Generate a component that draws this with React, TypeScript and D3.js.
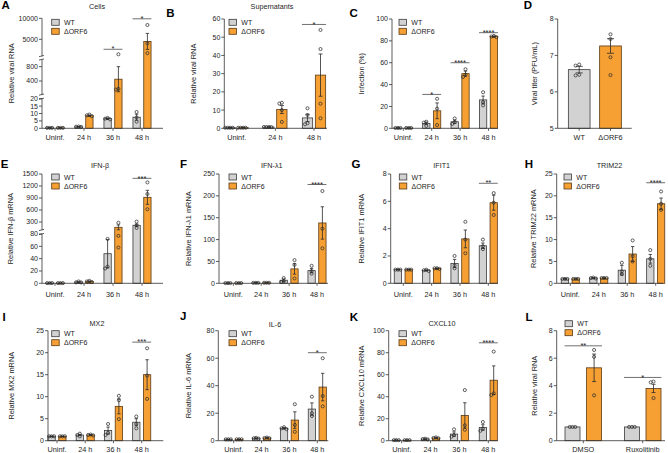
import React from "react";
import * as d3 from "d3";

// ---------- categories / labels ----------
const TIMES4 = ["Uninf.", "24 h", "36 h", "48 h"];
const TIMES3 = ["Uninf.", "24 h", "48 h"];
const STRAINS = ["WT", "ΔORF6"];
const TREATMENTS = ["DMSO", "Ruxolitinib"];

// ---------- A: Cells ----------
const cellsWT = [0.3, 1, 6.5, 7.5];
const cellsWTsem = [0.05, 0.1, 0.5, 2];
const cellsWTpts = [[0.3, 0.3, 0.3], [1, 1.1, 1.2], [7, 6.5, 6], [11, 7.3, 4.5]];
const cellsKO = [0.3, 8.5, 450, 4500];
const cellsKOsem = [0.05, 0.5, 350, 1900];
const cellsKOpts = [[0.3, 0.3, 0.3], [9.3, 8.8, 8.2], [1430, 180, 160], [8400, 4050, 1700]];
const cellsTicks = [[0, 5, 10, 15, 20], [400, 800], [5000, 10000]];

// ---------- B: Supernatants ----------
const superWT = [0.3, 0.7, 5.7];
const superWTsem = [0.05, 0.05, 2.0];
const superWTpts = [[0.3, 0.3, 0.3, 0.3], [0.7, 0.7, 0.7, 0.7], [11, 7.3, 2.8, 2.2]];
const superKO = [0.3, 10.3, 29.2];
const superKOsem = [0.05, 2.2, 11.6];
const superKOpts = [[0.3, 0.3, 0.3, 0.3], [14, 13.6, 10, 3.5], [54, 43.5, 13.5, 5.5]];
const superTicks = [0, 10, 20, 30, 40, 50, 60];

// ---------- C: Infection ----------
const infWT = [0.3, 4.5, 6, 26];
const infWTsem = [0.05, 1.2, 1.5, 3.5];
const infWTpts = [[0.3, 0.3, 0.3], [6, 5.2, 2.2], [9, 5.5, 4], [33, 24, 21]];
const infKO = [0.3, 16, 50, 84];
const infKOsem = [0.05, 7.2, 2.3, 0.5];
const infKOpts = [[0.3, 0.3, 0.3], [27, 18, 3], [54, 49, 47], [84.5, 84, 83.5]];
const infTicks = [0, 20, 40, 60, 80, 100];

// ---------- D: Viral titer ----------
const titerMean = [6.61, 7.26];
const titerSem = [0.09, 0.2];
const titerPts = [[6.75, 6.72, 6.47, 6.45], [7.58, 7.45, 6.95, 6.46]];
const titerTicks = [5, 6, 7, 8];

// ---------- E: IFN-β ----------
const ifnbWT = [0.3, 2, 48, 217];
const ifnbWTsem = [0.05, 0.5, 23, 30];
const ifnbWTpts = [[0.3, 0.3, 0.3], [3, 1.6, 1.4], [72, 27, 24], [310, 220, 150]];
const ifnbKO = [0.3, 3, 167, 917];
const ifnbKOsem = [0.05, 0.8, 60, 175];
const ifnbKOpts = [[0.3, 0.3, 0.3], [4, 3, 2], [280, 77, 58], [1290, 1000, 620]];
const ifnbTicks = [[0, 20, 40, 60, 80], [300, 600, 900, 1200, 1500]];

// ---------- F: IFN-λ1 ----------
const ifnlWT = [0.5, 1, 7, 29];
const ifnlWTsem = [0.1, 0.2, 3, 5];
const ifnlWTpts = [[0.5, 0.5, 0.5], [1, 1, 1], [12, 5, 3], [40, 28, 22]];
const ifnlKO = [0.5, 1.2, 33, 138];
const ifnlKOsem = [0.1, 0.2, 12, 37];
const ifnlKOpts = [[0.5, 0.5, 0.5], [1.2, 1.2, 1.2], [53, 42, 11], [211, 125, 80]];
const ifnlTicks = [0, 50, 100, 150, 200, 250];

// ---------- G: IFIT1 ----------
const ifitWT = [1, 0.95, 1.45, 2.75];
const ifitWTsem = [0.02, 0.04, 0.3, 0.2];
const ifitWTpts = [[1, 1, 1], [0.9, 0.95, 1.0], [2.0, 1.3, 1.1], [3.2, 2.7, 2.5]];
const ifitKO = [1, 1.08, 3.25, 5.9];
const ifitKOsem = [0.02, 0.04, 0.65, 0.55];
const ifitKOpts = [[1, 1, 1], [1.05, 1.1, 1.1], [4.5, 3.2, 2.2], [6.6, 5.9, 5.0]];
const ifitTicks = [0, 2, 4, 6, 8];

// ---------- H: TRIM22 ----------
const trimWT = [1, 1.2, 3, 5.6];
const trimWTsem = [0.05, 0.1, 1.1, 1.0];
const trimWTpts = [[1, 1, 1], [1.1, 1.2, 1.3], [4.7, 2.7, 2.1], [7.6, 5.6, 4.0]];
const trimKO = [1, 1.2, 6.7, 18.2];
const trimKOsem = [0.05, 0.1, 1.7, 1.3];
const trimKOpts = [[1, 1, 1], [1.2, 1.2, 1.2], [9.8, 6.2, 5.0], [21, 18.2, 16.8]];
const trimTicks = [0, 5, 10, 15, 20, 25];

// ---------- I: MX2 ----------
const mx2WT = [1, 1.3, 2.3, 4.2];
const mx2WTsem = [0.05, 0.15, 0.8, 0.8];
const mx2WTpts = [[1, 1, 1], [1.6, 1.3, 1.0], [3.8, 1.8, 1.3], [5.5, 3.8, 2.8]];
const mx2KO = [1, 1.3, 7.8, 15];
const mx2KOsem = [0.05, 0.1, 1.7, 3.4];
const mx2KOpts = [[1, 1, 1], [1.4, 1.3, 1.2], [10.2, 9.2, 4.9], [21, 14.8, 9.5]];
const mx2Ticks = [0, 5, 10, 15, 20, 25];

// ---------- J: IL-6 ----------
const il6WT = [1, 1.8, 9, 23];
const il6WTsem = [0.1, 0.3, 0.6, 4.5];
const il6WTpts = [[1, 1, 1], [1.5, 1.8, 2.1], [9.8, 9, 8.4], [32, 20, 18]];
const il6KO = [1, 2, 15, 39];
const il6KOsem = [0.1, 0.3, 6, 10];
const il6KOpts = [[1, 1, 1], [1.8, 2, 2.3], [26.5, 11.5, 6.5], [60, 32.5, 25]];
const il6Ticks = [0, 20, 40, 60, 80];

// ---------- K: CXCL10 ----------
const cxclWT = [0.5, 1.5, 6, 12];
const cxclWTsem = [0.1, 0.3, 2, 2.5];
const cxclWTpts = [[0.5, 0.5, 0.5], [1.2, 1.5, 1.8], [10.3, 5.2, 3.6], [17, 11, 9]];
const cxclKO = [0.5, 2.5, 23, 55];
const cxclKOsem = [0.1, 0.5, 11.5, 13];
const cxclKOpts = [[0.5, 0.5, 0.5], [2.2, 2.5, 3], [46, 14, 10], [81, 43, 41.5]];
const cxclTicks = [0, 20, 40, 60, 80, 100];

// ---------- L: Ruxolitinib ----------
const ruxWT = [1, 1];
const ruxWTsem = [0, 0];
const ruxWTpts = [[1, 1, 1], [1, 1, 1]];
const ruxKO = [5.3, 3.8];
const ruxKOsem = [1.0, 0.3];
const ruxKOpts = [[6.6, 6.1, 3.3], [4.3, 4.25, 3.1]];
const ruxTicks = [0, 2, 4, 6, 8];

// ---------- styles ----------
const FONT = "'Liberation Sans', Arial, Helvetica, sans-serif";
const GRAY = "#d2d2d2";
const GRAY_S = "#3a3a3a";
const ORANGE = "#f6a033";
const ORANGE_S = "#5a3a14";
const INK = "#1e1e1e";

type Seg = { dom: [number, number]; rng: [number, number]; ticks: number[] };
type Series = { mean: number[]; sem: number[]; pts: number[][]; fill: string[]; stroke: string[] };
type Sig = { cat: number; v: number; t: string };
type PanelCfg = {
  letter: string; lx: number; ly: number;
  title?: string; tx?: number; ty?: number;
  ylabel: string; ylx: number;
  axisX: number; xEnd: number;
  segs: Seg[];
  cats: string[]; c0: number; c1: number; catY: number;
  bw: number; off: number; capW: number; step: number;
  series: Series[];
  legend?: { x: number; y: number };
  sig?: Sig[];
};

const two = (wt: number[], wts: number[], wtp: number[][], ko: number[], kos: number[], kop: number[][]): Series[] => [
  { mean: wt, sem: wts, pts: wtp, fill: [GRAY], stroke: [GRAY_S] },
  { mean: ko, sem: kos, pts: kop, fill: [ORANGE], stroke: [ORANGE_S] },
];

const ROW1 = { top: 19, bot: 128.3, cat: 140.2 };
const ROW2 = { top: 174, bot: 283.3, cat: 297 };
const ROW3 = { top: 330.7, bot: 440.7, cat: 452.2 };

const lin = (max: number, row: { top: number; bot: number }, ticks: number[], min = 0): Seg[] => [
  { dom: [min, max], rng: [row.bot, row.top], ticks },
];

const panels: PanelCfg[] = [
  {
    letter: "A", lx: 1.5, ly: 8.5, title: "Cells", tx: 97, ty: 8.6,
    ylabel: "Relative viral RNA", ylx: 11, axisX: 42, xEnd: 163,
    segs: [
      { dom: [0, 20], rng: [128.3, 98.7], ticks: cellsTicks[0] },
      { dom: [20, 1000], rng: [94.6, 59.5], ticks: cellsTicks[1] },
      { dom: [1000, 10000], rng: [56.1, 18.3], ticks: cellsTicks[2] },
    ],
    cats: TIMES4, c0: 55, c1: 142, catY: ROW1.cat, bw: 7.3, off: 5.4, capW: 3.4, step: 2.5,
    series: two(cellsWT, cellsWTsem, cellsWTpts, cellsKO, cellsKOsem, cellsKOpts),
    legend: { x: 51.7, y: 19.3 },
    sig: [{ cat: 2, v: 2620, t: "*" }, { cat: 3, v: 9880, t: "*" }],
  },
  {
    letter: "B", lx: 166.3, ly: 16.7, title: "Supernatants", tx: 272, ty: 8.6,
    ylabel: "Relative viral RNA", ylx: 193.3, axisX: 224.3, xEnd: 327,
    segs: lin(60, ROW1, superTicks),
    cats: TIMES3, c0: 236.7, c1: 314, catY: ROW1.cat, bw: 10.3, off: 6.5, capW: 4, step: 2.5,
    series: two(superWT, superWTsem, superWTpts, superKO, superKOsem, superKOpts),
    legend: { x: 229, y: 19.3 },
    sig: [{ cat: 2, v: 57, t: "*" }],
  },
  {
    letter: "C", lx: 349.5, ly: 16.9,
    ylabel: "Infection (%)", ylx: 361.7, axisX: 392, xEnd: 498,
    segs: lin(100, ROW1, infTicks),
    cats: TIMES4, c0: 403.3, c1: 488.5, catY: ROW1.cat, bw: 7.3, off: 5.4, capW: 3.4, step: 2.5,
    series: two(infWT, infWTsem, infWTpts, infKO, infKOsem, infKOpts),
    legend: { x: 399, y: 19.3 },
    sig: [{ cat: 1, v: 31, t: "*" }, { cat: 2, v: 60, t: "****" }, { cat: 3, v: 87.5, t: "****" }],
  },
  {
    letter: "D", lx: 523.8, ly: 8.5,
    ylabel: "Viral titer (PFU/mL)", ylx: 534.3, axisX: 557.7, xEnd: 631.7,
    segs: lin(8, ROW1, titerTicks, 5),
    cats: STRAINS, c0: 579.2, c1: 610.5, catY: ROW1.cat, bw: 21.7, off: 0, capW: 7, step: 3.6,
    series: [{ mean: titerMean, sem: titerSem, pts: titerPts, fill: [GRAY, ORANGE], stroke: [GRAY_S, ORANGE_S] }],
  },
  {
    letter: "E", lx: 0.8, ly: 168.3, title: "IFN-β", tx: 100, ty: 167.8,
    ylabel: "Relative IFN-β mRNA", ylx: 10, axisX: 42, xEnd: 163,
    segs: [
      { dom: [0, 80], rng: [283.3, 234], ticks: ifnbTicks[0] },
      { dom: [100, 1500], rng: [230, 174], ticks: ifnbTicks[1] },
    ],
    cats: TIMES4, c0: 55, c1: 142, catY: ROW2.cat, bw: 7.3, off: 5.4, capW: 3.4, step: 2.5,
    series: two(ifnbWT, ifnbWTsem, ifnbWTpts, ifnbKO, ifnbKOsem, ifnbKOpts),
    legend: { x: 51.7, y: 174 },
    sig: [{ cat: 3, v: 1392, t: "***" }],
  },
  {
    letter: "F", lx: 180, ly: 167.5, title: "IFN-λ1", tx: 271.7, ty: 167.5,
    ylabel: "Relative IFN-λ1 mRNA", ylx: 188.3, axisX: 219, xEnd: 328,
    segs: lin(250, ROW2, ifnlTicks),
    cats: TIMES4, c0: 233.3, c1: 317, catY: ROW2.cat, bw: 7.3, off: 5.4, capW: 3.4, step: 2.5,
    series: two(ifnlWT, ifnlWTsem, ifnlWTpts, ifnlKO, ifnlKOsem, ifnlKOpts),
    legend: { x: 229, y: 174 },
    sig: [{ cat: 3, v: 226, t: "****" }],
  },
  {
    letter: "G", lx: 351.5, ly: 168.3, title: "IFIT1", tx: 441.7, ty: 168,
    ylabel: "Relative IFIT1 mRNA", ylx: 361.7, axisX: 390.7, xEnd: 498,
    segs: lin(8, ROW2, ifitTicks),
    cats: TIMES4, c0: 403.3, c1: 488.3, catY: ROW2.cat, bw: 7.3, off: 5.4, capW: 3.4, step: 2.5,
    series: two(ifitWT, ifitWTsem, ifitWTpts, ifitKO, ifitKOsem, ifitKOpts),
    legend: { x: 399.3, y: 174 },
    sig: [{ cat: 3, v: 7.32, t: "**" }],
  },
  {
    letter: "H", lx: 524.8, ly: 167.5, title: "TRIM22", tx: 609.5, ty: 167.5,
    ylabel: "Relative TRIM22 mRNA", ylx: 533.3, axisX: 556.7, xEnd: 663,
    segs: lin(25, ROW2, trimTicks),
    cats: TIMES4, c0: 570.3, c1: 655.7, catY: ROW2.cat, bw: 7.3, off: 5.4, capW: 3.4, step: 2.5,
    series: two(trimWT, trimWTsem, trimWTpts, trimKO, trimKOsem, trimKOpts),
    legend: { x: 564, y: 174 },
    sig: [{ cat: 3, v: 23, t: "****" }],
  },
  {
    letter: "I", lx: 2.5, ly: 321, title: "MX2", tx: 97, ty: 326,
    ylabel: "Relative MX2 mRNA", ylx: 11.7, axisX: 48, xEnd: 163.3,
    segs: lin(25, ROW3, mx2Ticks),
    cats: TIMES4, c0: 57, c1: 141.7, catY: ROW3.cat, bw: 7.3, off: 5.4, capW: 3.4, step: 2.5,
    series: two(mx2WT, mx2WTsem, mx2WTpts, mx2KO, mx2KOsem, mx2KOpts),
    legend: { x: 51.7, y: 330.7 },
    sig: [{ cat: 3, v: 22.4, t: "***" }],
  },
  {
    letter: "J", lx: 180, ly: 320.3, title: "IL-6", tx: 275, ty: 327,
    ylabel: "Relative IL-6 mRNA", ylx: 188.3, axisX: 218.3, xEnd: 328.3,
    segs: lin(80, ROW3, il6Ticks),
    cats: TIMES4, c0: 233.7, c1: 317.3, catY: ROW3.cat, bw: 7.3, off: 5.4, capW: 3.4, step: 2.5,
    series: two(il6WT, il6WTsem, il6WTpts, il6KO, il6KOsem, il6KOpts),
    legend: { x: 229, y: 330.7 },
    sig: [{ cat: 3, v: 64, t: "*" }],
  },
  {
    letter: "K", lx: 349.8, ly: 320.7, title: "CXCL10", tx: 442, ty: 326,
    ylabel: "Relative CXCL10 mRNA", ylx: 361.7, axisX: 388.7, xEnd: 498,
    segs: lin(100, ROW3, cxclTicks),
    cats: TIMES4, c0: 401.7, c1: 488.3, catY: ROW3.cat, bw: 7.3, off: 5.4, capW: 3.4, step: 2.5,
    series: two(cxclWT, cxclWTsem, cxclWTpts, cxclKO, cxclKOsem, cxclKOpts),
    legend: { x: 399, y: 330.7 },
    sig: [{ cat: 3, v: 89, t: "****" }],
  },
  {
    letter: "L", lx: 525.5, ly: 320.7,
    ylabel: "Relative viral RNA", ylx: 534.3, axisX: 556.7, xEnd: 665,
    segs: lin(8, ROW3, ruxTicks),
    cats: TREATMENTS, c0: 583.3, c1: 642.7, catY: ROW3.cat, bw: 15, off: 10.8, capW: 4, step: 2.8,
    series: two(ruxWT, ruxWTsem, ruxWTpts, ruxKO, ruxKOsem, ruxKOpts),
    legend: { x: 565, y: 320.7 },
    sig: [{ cat: 0, v: 6.9, t: "**" }, { cat: 1, v: 4.6, t: "*" }],
  },
];

function swarm(ys: number[], step: number): number[] {
  const placed: { x: number; y: number }[] = [];
  const order = ys.map((y, i) => ({ y, i })).sort((a, b) => a.y - b.y);
  const res = new Array(ys.length).fill(0);
  const cands = [0, -step, step, -2 * step, 2 * step];
  for (const { y, i } of order) {
    for (const c of cands) {
      if (placed.every((p) => Math.hypot(p.x - c, p.y - y) >= step * 0.98)) {
        res[i] = c;
        placed.push({ x: c, y });
        break;
      }
    }
  }
  return res;
}

function Panel({ cfg }: { cfg: PanelCfg }) {
  const scales = cfg.segs.map((s) => d3.scaleLinear().domain(s.dom).range(s.rng));
  const y = (v: number) => {
    for (let i = 0; i < cfg.segs.length; i++) if (v <= cfg.segs[i].dom[1]) return scales[i](v);
    return scales[scales.length - 1](v);
  };
  const x = d3.scalePoint<string>().domain(cfg.cats).range([cfg.c0, cfg.c1]);
  const base = cfg.segs[0].dom[0];
  const y0 = y(base);
  const yTop = cfg.segs[cfg.segs.length - 1].rng[1];
  const offs = cfg.series.length === 1 ? [0] : [-cfg.off, cfg.off];
  const halfSpan = cfg.off + cfg.bw / 2 + 0.4;

  return (
    <g>
      <text x={cfg.lx} y={cfg.ly} fontSize={11.5} fontWeight="bold" fill="#000">{cfg.letter}</text>
      {cfg.title && (
        <text x={cfg.tx} y={cfg.ty} fontSize={7.2} textAnchor="middle" fill={INK}>{cfg.title}</text>
      )}
      <text
        transform={`translate(${cfg.ylx},${(y0 + yTop) / 2}) rotate(-90)`}
        dy="0.35em" fontSize={7.4} textAnchor="middle" fill={INK}
      >{cfg.ylabel}</text>

      {cfg.series.map((s, si) =>
        cfg.cats.map((c, ci) => {
          const cx = (x(c) as number) + offs[si];
          const yv = y(s.mean[ci]);
          return (
            <rect key={`b${si}-${ci}`} x={cx - cfg.bw / 2} y={yv} width={cfg.bw} height={Math.max(0, y0 - yv)}
              fill={s.fill[ci % s.fill.length]} stroke={s.stroke[ci % s.stroke.length]} strokeWidth={0.8} />
          );
        })
      )}
      {cfg.series.map((s, si) =>
        cfg.cats.map((c, ci) => {
          const cx = (x(c) as number) + offs[si];
          const ys = s.pts[ci].map((v) => y(v));
          const dx = swarm(ys, cfg.step);
          return ys.map((py, pi) => (
            <circle key={`p${si}-${ci}-${pi}`} cx={cx + dx[pi]} cy={py} r={1.55}
              fill="none" stroke="#2e2e2e" strokeWidth={0.75} />
          ));
        })
      )}
      {cfg.series.map((s, si) =>
        cfg.cats.map((c, ci) => {
          const cx = (x(c) as number) + offs[si];
          if (s.sem[ci] <= 0) return null;
          const yHi = y(s.mean[ci] + s.sem[ci]);
          const yLo = y(Math.max(base, s.mean[ci] - s.sem[ci]));
          const hw = cfg.capW / 2;
          return (
            <g key={`e${si}-${ci}`} stroke="#2a2a2a" strokeWidth={0.8}>
              <line x1={cx} x2={cx} y1={yHi} y2={yLo} />
              <line x1={cx - hw} x2={cx + hw} y1={yHi} y2={yHi} />
              <line x1={cx - hw} x2={cx + hw} y1={yLo} y2={yLo} />
            </g>
          );
        })
      )}

      {cfg.segs.map((s, i) => (
        <line key={`ax${i}`} x1={cfg.axisX} x2={cfg.axisX}
          y1={i === 0 ? y0 : s.rng[0]} y2={s.rng[1]} stroke="#333" strokeWidth={0.8} />
      ))}
      {cfg.segs.slice(1).map((s, i) => {
        const a = cfg.segs[i].rng[1];
        const b = s.rng[0];
        return (
          <g key={`br${i}`} stroke="#333" strokeWidth={0.8}>
            <line x1={cfg.axisX - 3} x2={cfg.axisX + 2} y1={a + 0.6} y2={a - 0.6} />
            <line x1={cfg.axisX - 3} x2={cfg.axisX + 2} y1={b + 0.6} y2={b - 0.6} />
          </g>
        );
      })}
      {cfg.segs.map((s, i) =>
        s.ticks.map((t) => {
          const ty = scales[i](t);
          return (
            <g key={`t${i}-${t}`}>
              <line x1={cfg.axisX - 3} x2={cfg.axisX} y1={ty} y2={ty} stroke="#333" strokeWidth={0.8} />
              <text x={cfg.axisX - 4} y={ty} dy="0.35em" fontSize={7} textAnchor="end" fill={INK}>{t}</text>
            </g>
          );
        })
      )}
      <line x1={cfg.axisX} x2={cfg.xEnd} y1={y0} y2={y0} stroke="#333" strokeWidth={0.8} />
      {cfg.cats.map((c) => (
        <g key={`xc${c}`}>
          <line x1={x(c)} x2={x(c)} y1={y0} y2={y0 + 2.5} stroke="#333" strokeWidth={0.8} />
          <text x={x(c)} y={cfg.catY} fontSize={7.3} textAnchor="middle" fill={INK}>{c}</text>
        </g>
      ))}

      {cfg.sig && cfg.sig.map((g, i) => {
        const cx = x(cfg.cats[g.cat]) as number;
        const ly = y(g.v);
        return (
          <g key={`s${i}`}>
            <line x1={cx - halfSpan} x2={cx + halfSpan} y1={ly} y2={ly} stroke="#333" strokeWidth={0.7} />
            <text x={cx} y={ly + 2.2} fontSize={7.5} textAnchor="middle" fill={INK}>{g.t}</text>
          </g>
        );
      })}

      {cfg.legend && cfg.series.map((s, si) => (
        <g key={`lg${si}`}>
          <rect x={cfg.legend!.x} y={cfg.legend!.y + si * 9} width={7.5} height={6}
            fill={s.fill[0]} stroke={s.stroke[0]} strokeWidth={0.8} />
          <text x={cfg.legend!.x + 12.3} y={cfg.legend!.y + si * 9 + 5.6} fontSize={7} fill={INK}>{STRAINS[si]}</text>
        </g>
      ))}
    </g>
  );
}

export default function App() {
  return (
    <svg width={668} height={453} fontFamily={FONT}
      style={{ position: "absolute", left: 0, top: 0, display: "block", background: "#fff" }}>
      <rect width={668} height={453} fill="#fff" />
      {panels.map((p, i) => <Panel key={i} cfg={p} />)}
    </svg>
  );
}
